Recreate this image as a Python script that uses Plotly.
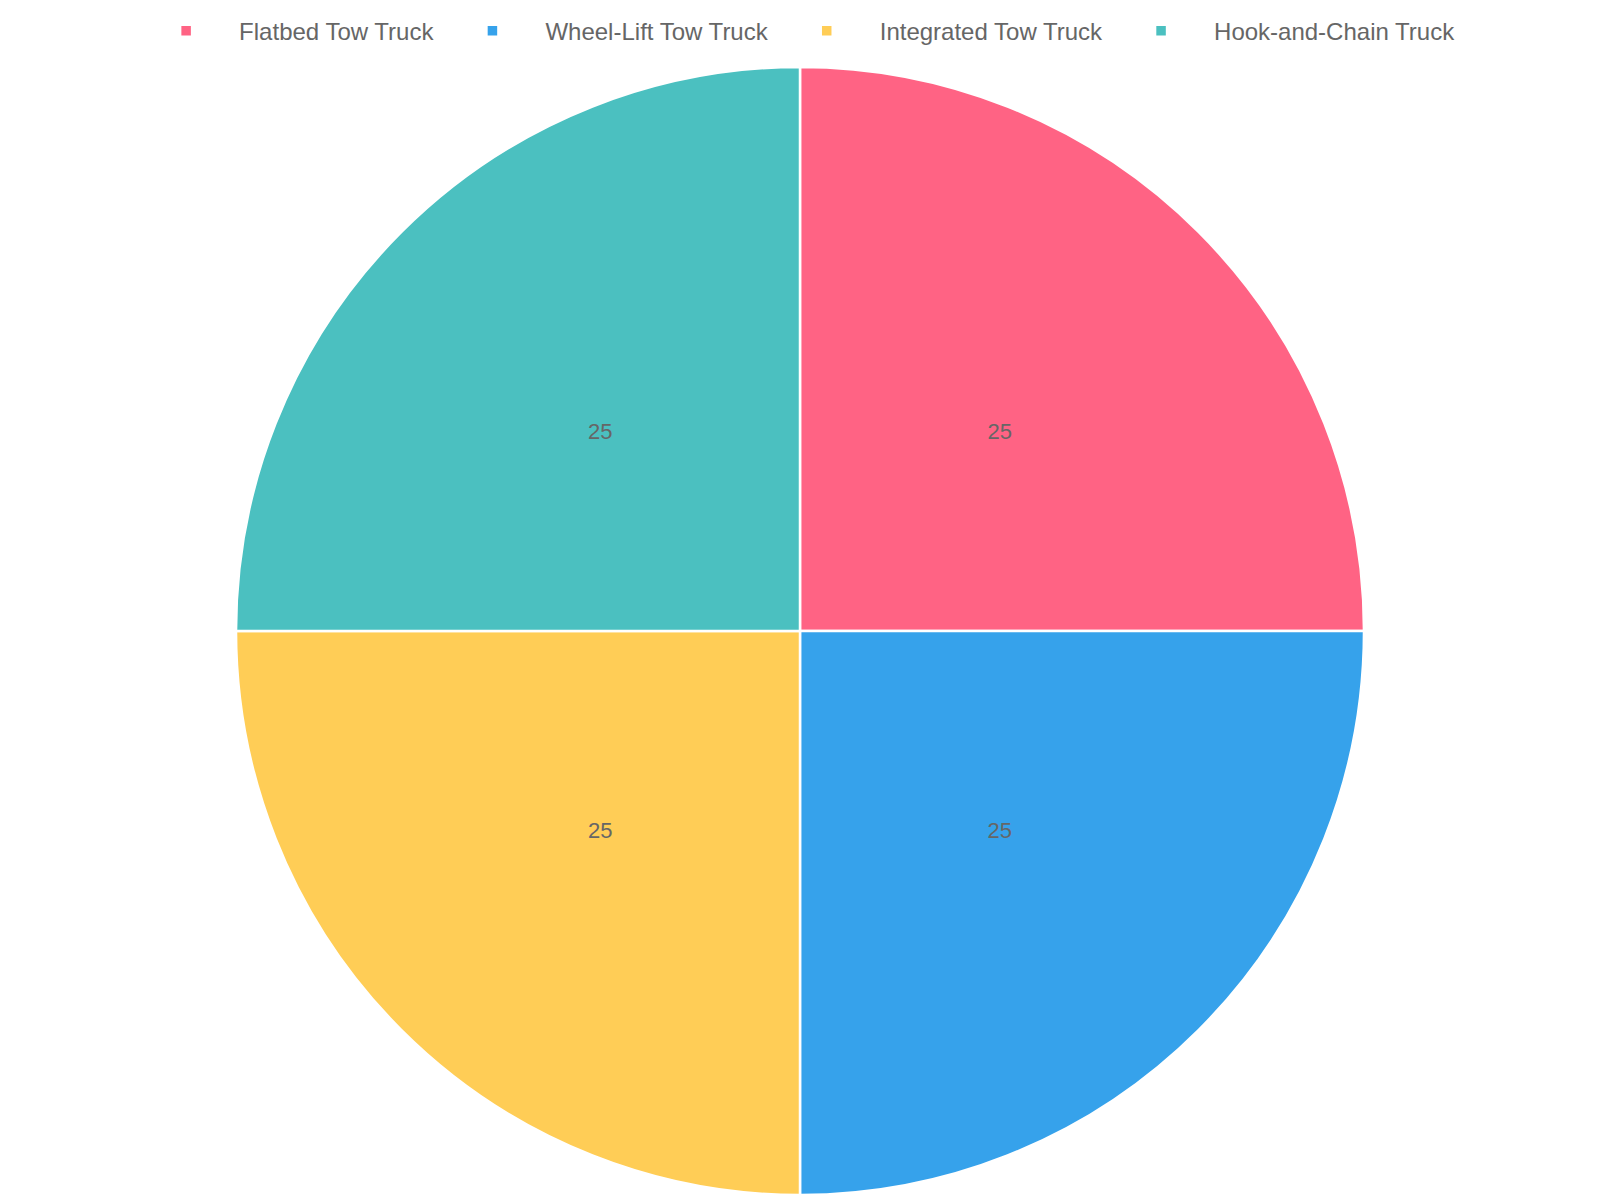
import plotly.graph_objects as go

labels = ["Flatbed Tow Truck", "Wheel-Lift Tow Truck", "Integrated Tow Truck", "Hook-and-Chain Truck"]
values = [25, 25, 25, 25]
colors = ["rgb(255,99,132)", "rgb(54,162,235)", "rgb(255,205,86)", "rgb(75,192,192)"]

FONT = "Liberation Sans, Arial, sans-serif"

fig = go.Figure()

# main pie (slices + legend)
fig.add_trace(go.Pie(
    labels=labels,
    values=values,
    sort=False,
    direction="clockwise",
    rotation=0,
    marker=dict(colors=colors, line=dict(color="white", width=2.5)),
    textinfo="none",
    hoverinfo="label+value",
    domain=dict(x=[0, 1], y=[0, 1]),
))

# transparent overlay pie that only carries the value labels (placed at ~half radius)
fig.add_trace(go.Pie(
    labels=labels,
    values=values,
    sort=False,
    direction="clockwise",
    rotation=0,
    marker=dict(colors=["rgba(0,0,0,0)"] * len(labels), line=dict(width=0)),
    textinfo="value",
    textposition="inside",
    insidetextorientation="horizontal",
    textfont=dict(color="#666666", size=22, family=FONT),
    hoverinfo="skip",
    showlegend=False,
    domain=dict(x=[0, 1], y=[0.0726, 0.9274]),
))

fig.update_layout(
    width=1600, height=1200,
    paper_bgcolor="white", plot_bgcolor="white",
    margin=dict(l=0, r=0, t=67, b=5),
    showlegend=True,
    legend=dict(
        orientation="h",
        x=0.4982, xanchor="center",
        y=0.974, yref="container", yanchor="middle",
        font=dict(color="#666666", size=24, family=FONT),
        itemwidth=96,
    ),
)

fig.write_html(
    "out.html",
    config={"displayModeBar": False},
    post_script="document.body.style.margin='0';",
)
